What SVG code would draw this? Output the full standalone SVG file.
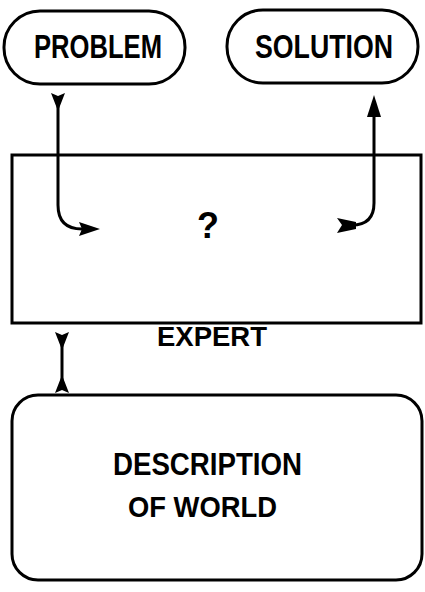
<svg xmlns="http://www.w3.org/2000/svg" width="425" height="592" viewBox="0 0 425 592">
<style>
.box{fill:#fff;stroke:#000;stroke-width:3}
.ln{fill:none;stroke:#000;stroke-width:3}
.hd{fill:#000;stroke:none}
text{font-family:"Liberation Sans",Arial,sans-serif;font-weight:bold;fill:#000;text-anchor:start}
</style>
<rect width="425" height="592" fill="#fff"/>
<g id="expert">
<rect class="box" x="12" y="155" width="409" height="168"/>
<text x="197" y="238" font-size="37" textLength="22" lengthAdjust="spacingAndGlyphs">?</text>
<text x="157" y="346" font-size="28" textLength="110" lengthAdjust="spacingAndGlyphs">EXPERT</text>
</g>
<g id="problem">
<rect class="box" x="4" y="11" width="181" height="73" rx="36"/>
<text x="34" y="58" font-size="33" textLength="128" lengthAdjust="spacingAndGlyphs">PROBLEM</text>
</g>
<g id="solution">
<rect class="box" x="227" y="10" width="191" height="73" rx="36"/>
<text x="255" y="58" font-size="33" textLength="138" lengthAdjust="spacingAndGlyphs">SOLUTION</text>
</g>
<g id="world">
<rect class="box" x="12" y="395" width="410" height="185" rx="26"/>
<text x="113" y="475" font-size="31" textLength="189" lengthAdjust="spacingAndGlyphs">DESCRIPTION</text>
<text x="128" y="517" font-size="30" textLength="149" lengthAdjust="spacingAndGlyphs">OF WORLD</text>
</g>
<g id="connectors">
<path class="ln" d="M58,105 V205 Q58,229 82,229 H86"/>
<path class="hd" d="M51,93 L58,96 L65,93 L58,111 Z"/>
<path class="hd" d="M100,229 L79,222 L82,229 L79,236 Z"/>
<path class="ln" d="M352,225 Q374,225 374,203 V114"/>
<path class="hd" d="M374,95 L381,117 L367,117 Z"/>
<path class="hd" d="M337,218 L356,222 L356,229 L337,233 L342,225 Z"/>
<path class="ln" d="M62,344 V382"/>
<path class="hd" d="M55,332 L62,335 L69,332 L62,350 Z"/>
<path class="hd" d="M55,393 L62,390 L69,393 L62,375 Z"/>
</g>
</svg>
